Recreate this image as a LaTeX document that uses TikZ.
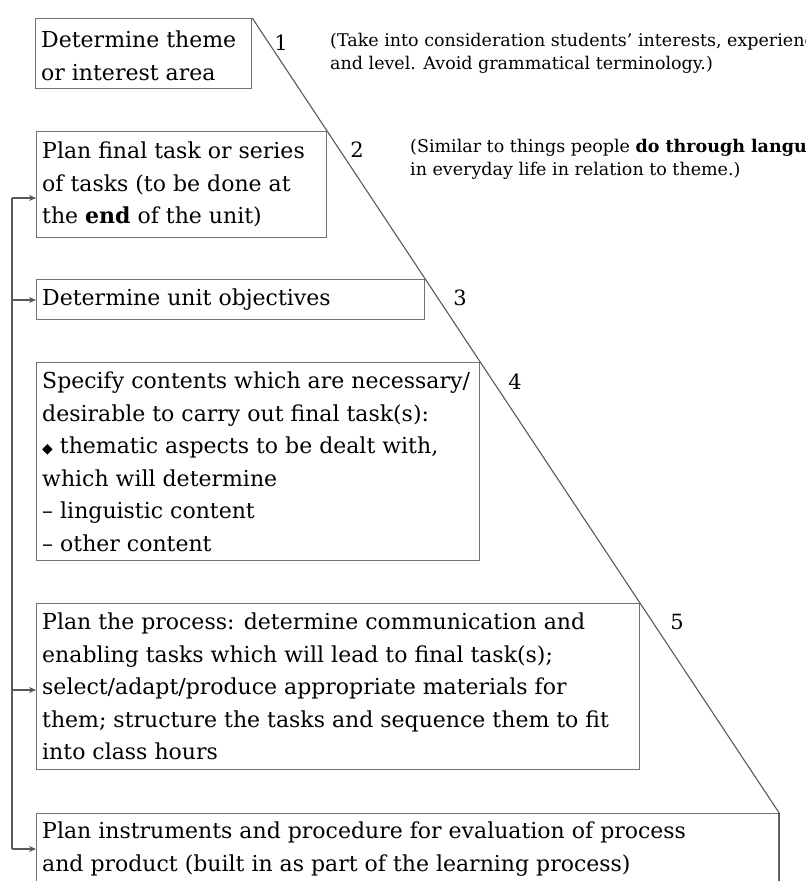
\documentclass[tikz,border=0pt]{standalone}
\usepackage{fontspec}
\setmainfont{DejaVu Serif}
\newfontfamily\symfnt{DejaVu Sans}
\usetikzlibrary{arrows.meta,calc}
\begin{document}
\begin{tikzpicture}[x=1pt,y=-1pt,
  box/.style={draw=black!55, line width=1.2pt, rectangle, inner sep=0pt, anchor=north west},
  txt/.style={anchor=west, align=left, inner sep=0pt, font=\fontsize{22}{32.5}\selectfont},
  num/.style={font=\fontsize{21}{24}\selectfont, inner sep=0pt},
  note/.style={anchor=west, align=left, inner sep=0pt, font=\fontsize{17.5}{23}\selectfont},
  link/.style={draw=black!65, line width=1.1pt},
  arr/.style={link, -{Stealth[length=7pt,width=6pt]}}
]
\useasboundingbox (0,0) rectangle (806,881);

% boxes
\node[box, minimum width=216pt, minimum height=70pt]  (b1) at (35,18)  {};
\node[box, minimum width=290pt, minimum height=106pt] (b2) at (36,131) {};
\node[box, minimum width=388pt, minimum height=40pt]  (b3) at (36,279) {};
\node[box, minimum width=443pt, minimum height=198pt] (b4) at (36,362) {};
\node[box, minimum width=603pt, minimum height=166pt] (b5) at (36,603) {};
\node[box, minimum width=742pt, minimum height=100pt] (b6) at (36,813) {};

% texts
\node[txt] (t1) at ($(b1.west)+(6,2)$) {Determine theme\\or interest area};
\node[txt] (t2) at ($(b2.west)+(6,0)$) {Plan final task or series\\of tasks (to be done at\\the \textbf{end} of the unit)};
\node[txt] (t3) at ($(b3.west)+(6,0)$) {Determine unit objectives};
\node[txt] (t4) at ($(b4.west)+(6,0)$) {Specify contents which are necessary/\\desirable to carry out final task(s):\\{\symfnt\fontsize{14}{14}\selectfont ◆} thematic aspects to be dealt with,\\which will determine\\– linguistic content\\– other content};
\node[txt] (t5) at ($(b5.west)+(6,0)$) {Plan the process: determine communication and\\enabling tasks which will lead to final task(s);\\select/adapt/produce appropriate materials for\\them; structure the tasks and sequence them to fit\\into class hours};
\node[txt] (t6) at ($(b6.north west)+(6,36)$) {Plan instruments and procedure for evaluation of process\\and product (built in as part of the learning process)};

% numbers
\node[num] (n1) at (281,43)  {1};
\node[num] (n2) at (357,150) {2};
\node[num] (n3) at (460,298) {3};
\node[num] (n4) at (515,382) {4};
\node[num] (n5) at (677,622) {5};

% notes
\node[note] (c1) at (330,53)  {(Take into consideration students' interests, experience,\\and level. Avoid grammatical terminology.)};
\node[note] (c2) at (410,159) {(Similar to things people \textbf{do through language}\\in everyday life in relation to theme.)};

% diagonal
\draw[link] (b1.north east) -- (b6.north east) -- (b6.south east);

% feedback line
\coordinate (f2) at (12,198);
\coordinate (f3) at (12,300);
\coordinate (f5) at (12,690);
\coordinate (f6) at (12,849);
\draw[link] (f2) -- (f6);
\draw[arr] (f2) -- (f2 -| b2.west);
\draw[arr] (f3) -- (f3 -| b3.west);
\draw[arr] (f5) -- (f5 -| b5.west);
\draw[arr] (f6) -- (f6 -| b6.west);
\end{tikzpicture}
\end{document}
